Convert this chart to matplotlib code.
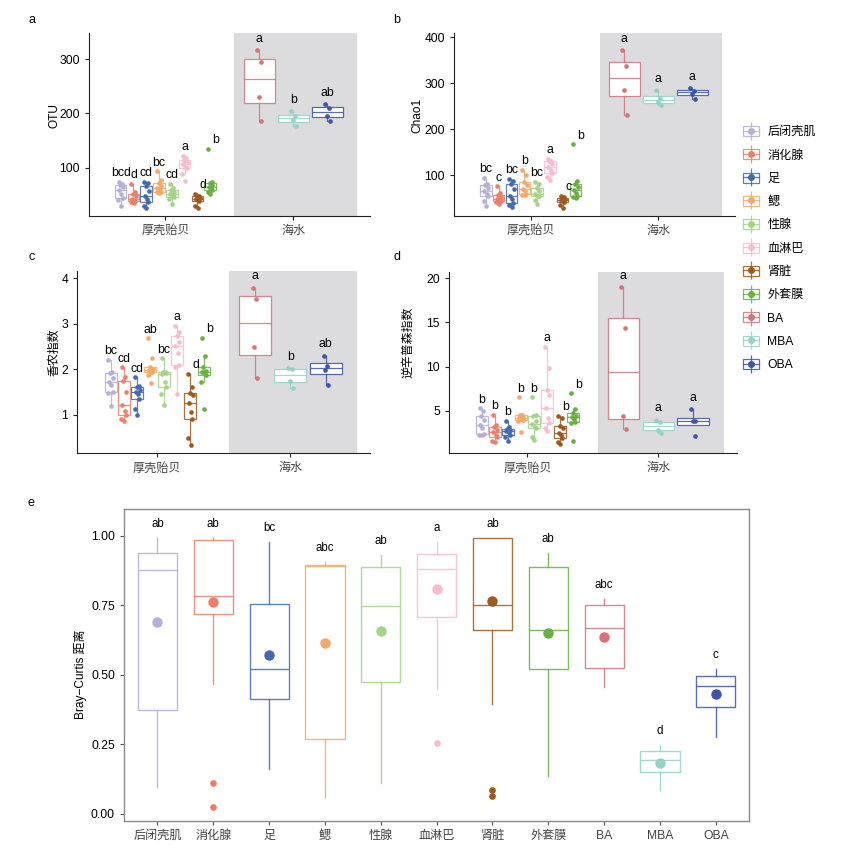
import numpy as np
import matplotlib
matplotlib.use("Agg")
import matplotlib.pyplot as plt
from matplotlib.patches import Patch
from matplotlib.lines import Line2D
from matplotlib.legend_handler import HandlerTuple
from matplotlib.colors import to_rgba

plt.rcParams['font.family'] = ['Liberation Sans', 'Noto Sans CJK SC', 'DejaVu Sans']
plt.rcParams['font.size'] = 8.5

groups = ['后闭壳肌', '消化腺', '足', '鳃', '性腺', '血淋巴', '肾脏', '外套膜', 'BA', 'MBA', 'OBA']
colors = ['#b4b0d9', '#e9806e', '#4569b0', '#f4a96a', '#a5d38a', '#f6bcd0',
          '#9c5a1f', '#6aae45', '#d37479', '#94d2c8', '#3e54a6']
sites = ['厚壳贻贝', '海水']

# panel a - OTU
otu = [
    [74, 70, 69, 64, 59, 52, 45, 40, 30],
    [70, 55, 51, 47, 42, 40, 38, 36, 35],
    [74, 71, 66, 57, 47, 42, 36, 30, 25],
    [93, 78, 72, 66, 62, 60, 56, 55, 53],
    [70, 62, 59, 55, 52, 50, 46, 42, 34],
    [122, 118, 114, 110, 106, 101, 99, 88, 76],
    [52, 48, 47, 45, 43, 40, 38, 30, 26],
    [134, 74, 72, 68, 64, 62, 58, 55, 52],
    [316, 295, 231, 186],
    [204, 195, 187, 177],
    [217, 210, 196, 186],
]
otu_letters = ['bcd', 'd', 'cd', 'bc', 'cd', 'a', 'd', 'b', 'a', 'b', 'ab']

# panel b - Chao1
chao1 = [
    [95, 82, 78, 72, 66, 60, 54, 45, 34],
    [76, 62, 57, 52, 48, 46, 43, 42, 38],
    [92, 88, 80, 70, 56, 48, 40, 35, 32],
    [112, 100, 85, 78, 70, 66, 60, 58, 57],
    [85, 80, 73, 66, 60, 56, 54, 46, 37],
    [135, 132, 130, 124, 118, 112, 104, 96, 89],
    [55, 53, 51, 49, 47, 44, 41, 35, 28],
    [167, 88, 80, 75, 68, 62, 55, 52, 50],
    [371, 338, 285, 231],
    [285, 267, 259, 252],
    [289, 284, 277, 265],
]
chao1_letters = ['bc', 'c', 'bc', 'b', 'bc', 'a', 'c', 'b', 'a', 'a', 'a']

# panel c - Shannon
shannon = [
    [2.2, 1.95, 1.91, 1.8, 1.73, 1.65, 1.51, 1.48, 1.2],
    [2.04, 1.84, 1.75, 1.5, 1.21, 1.09, 1.0, 0.9, 0.87],
    [1.82, 1.63, 1.6, 1.54, 1.5, 1.46, 1.35, 1.12, 1.0],
    [2.68, 2.24, 2.04, 2.0, 1.98, 1.95, 1.93, 1.87, 1.7],
    [2.24, 1.94, 1.93, 1.92, 1.9, 1.73, 1.6, 1.46, 1.21],
    [2.96, 2.83, 2.73, 2.6, 2.51, 2.36, 2.1, 2.05, 1.46],
    [1.9, 1.62, 1.48, 1.43, 1.25, 1.05, 0.9, 0.48, 0.33],
    [2.69, 2.3, 2.06, 1.97, 1.95, 1.93, 1.87, 1.73, 1.13],
    [3.8, 3.54, 2.5, 1.8],
    [2.02, 2.01, 1.75, 1.59],
    [2.3, 2.08, 1.98, 1.65],
]
shannon_letters = ['bc', 'cd', 'cd', 'ab', 'bc', 'a', 'd', 'b', 'a', 'b', 'ab']

# panel d - inverse Simpson
invsimpson = [
    [5.25, 5.0, 4.44, 4.0, 3.38, 3.0, 2.35, 2.3, 2.25],
    [4.5, 3.35, 3.2, 2.8, 2.62, 2.3, 2.05, 1.6, 1.45],
    [3.8, 3.2, 2.95, 2.8, 2.7, 2.55, 2.2, 2.0, 1.6],
    [6.5, 4.55, 4.5, 4.3, 4.2, 4.1, 3.9, 3.85, 2.6],
    [6.5, 4.5, 4.35, 3.8, 3.5, 3.2, 3.0, 2.0, 1.7],
    [12.2, 9.8, 7.4, 6.8, 5.3, 4.2, 3.64, 3.0, 2.7],
    [4.45, 4.2, 3.26, 3.0, 2.43, 2.3, 1.86, 1.5, 1.2],
    [6.95, 5.2, 4.7, 4.4, 4.3, 4.1, 3.75, 3.6, 1.6],
    [19.0, 14.4, 4.45, 2.9],
    [3.95, 3.7, 2.85, 2.5],
    [5.15, 3.85, 3.8, 2.15],
]
invsimpson_letters = ['b', 'b', 'b', 'b', 'b', 'a', 'b', 'b', 'a', 'a', 'a']

# panel e - Bray-Curtis distance
bc_whislo = [0.097, 0.466, 0.161, 0.059, 0.112, 0.448, 0.394, 0.137, 0.457, 0.085, 0.277]
bc_q1 = [0.375, 0.718, 0.414, 0.270, 0.476, 0.710, 0.662, 0.520, 0.526, 0.149, 0.383]
bc_med = [0.877, 0.785, 0.520, 0.891, 0.747, 0.880, 0.750, 0.663, 0.668, 0.193, 0.459]
bc_q3 = [0.939, 0.987, 0.756, 0.897, 0.890, 0.934, 0.991, 0.890, 0.753, 0.227, 0.497]
bc_whishi = [0.992, 0.994, 0.977, 0.908, 0.932, 0.980, 0.994, 0.938, 0.772, 0.247, 0.520]
bc_mean = [0.689, 0.764, 0.572, 0.614, 0.657, 0.808, 0.767, 0.652, 0.638, 0.183, 0.431]
bc_fliers = [[], [0.109, 0.026], [], [], [], [0.253], [0.084, 0.064], [], [], [], []]
bc_letters = ['ab', 'ab', 'bc', 'abc', 'ab', 'a', 'ab', 'ab', 'abc', 'd', 'c']

W, H = 857, 849
fig = plt.figure(figsize=(W / 100, H / 100), dpi=100)


def add_ax(left, top, right, bottom):
    return fig.add_axes([left / W, 1 - bottom / H, (right - left) / W, (bottom - top) / H])


jit = np.array([-0.016, 0.012, -0.004, 0.018, -0.012, 0.006, 0.015, -0.019, 0.002])
label_nudge = [0, 0, 0, 0, 0, 0, 4, 4, 0, 0, 0]
ink = '#222222'
tick_fs = 8.7


def draw_alpha(ax, values, letters, ylim, yticks, ylabel, ylab_pos):
    ax.axvspan(1.54, 2.5, color='#dcdbde', lw=0, zorder=0)
    for i, v in enumerate(values):
        if i < 8:
            slot = 0.8 / 8
            x = 0.6 + slot * (i + 0.5)
        else:
            slot = 0.8 / 3
            x = 1.6 + slot * (i - 8 + 0.5)
        c = colors[i]
        lc = to_rgba(c, 0.85)
        ax.boxplot(v, positions=[x], widths=slot * 0.9, showfliers=False, patch_artist=True,
                   manage_ticks=False, whis=1.5,
                   boxprops=dict(facecolor='white', edgecolor=lc, lw=0.9),
                   medianprops=dict(color=lc, lw=0.9),
                   whiskerprops=dict(color=lc, lw=0.9),
                   capprops=dict(visible=False))
        ax.scatter(x + jit[:len(v)], v, s=11, color=c, lw=0, zorder=3)
        pad = 2 if i < 8 else 4
        ax.annotate(letters[i], (x, max(v)), xytext=(label_nudge[i], pad),
                    textcoords='offset points', ha='center', va='bottom', fontsize=8.8)
    ax.set_xlim(0.4, 2.6)
    ax.set_ylim(*ylim)
    ax.set_yticks(yticks)
    ax.set_xticks([1, 2])
    ax.set_xticklabels(sites, color='#444444', fontsize=9)
    ax.set_ylabel(ylabel, fontsize=8.6, va='center')
    ax.yaxis.set_label_coords(*ylab_pos)
    for s in ['top', 'right']:
        ax.spines[s].set_visible(False)
    for s in ['left', 'bottom']:
        ax.spines[s].set_color(ink)
        ax.spines[s].set_linewidth(0.8)
    ax.tick_params(direction='out', length=3, width=0.8, color=ink, labelsize=tick_fs)


ax_a = add_ax(88.7, 33, 370, 216)
draw_alpha(ax_a, otu, otu_letters, (11, 348), [100, 200, 300], 'OTU', (-0.122, 0.55))
ax_b = add_ax(454, 33, 735, 216)
draw_alpha(ax_b, chao1, chao1_letters, (11.5, 409), [100, 200, 300, 400], 'Chao1', (-0.129, 0.55))
ax_c = add_ax(77.3, 270.7, 370, 453.3)
draw_alpha(ax_c, shannon, shannon_letters, (0.15, 4.17), [1, 2, 3, 4], '香农指数', (-0.079, 0.556))
ax_d = add_ax(449, 271.7, 736.7, 453.3)
draw_alpha(ax_d, invsimpson, invsimpson_letters, (0.17, 20.75), [5, 10, 15, 20], '逆辛普森指数', (-0.141, 0.61))

# panel e
ax_e = add_ax(124, 509, 749.3, 820.7)
stats = []
for i in range(len(groups)):
    stats.append(dict(whislo=bc_whislo[i], q1=bc_q1[i], med=bc_med[i], q3=bc_q3[i],
                      whishi=bc_whishi[i], mean=bc_mean[i], fliers=bc_fliers[i]))
pos = np.arange(1, len(groups) + 1)
bp = ax_e.bxp(stats, positions=pos, widths=0.7, showmeans=True, showcaps=False,
              patch_artist=True, manage_ticks=False)
for i, c in enumerate(colors):
    lc = to_rgba(c, 0.85)
    bp['boxes'][i].set(facecolor='white', edgecolor=lc, lw=1.0)
    bp['medians'][i].set(color=lc, lw=1.0)
    bp['whiskers'][2 * i].set(color=lc, lw=1.0)
    bp['whiskers'][2 * i + 1].set(color=lc, lw=1.0)
    bp['means'][i].set(marker='o', markerfacecolor=c, markeredgecolor=c, markersize=6.5)
    bp['fliers'][i].set(marker='o', markerfacecolor=c, markeredgecolor=c, markersize=3.8)
    ax_e.annotate(bc_letters[i], (pos[i], bc_whishi[i]), xytext=(0, 10),
                  textcoords='offset points', ha='center', va='center', fontsize=8.3)
ax_e.set_xlim(0.4, 11.6)
ax_e.set_ylim(-0.025, 1.097)
ax_e.set_xticks(pos)
ax_e.set_xticklabels(groups, color='#444444', fontsize=8.8)
ax_e.set_yticks([0, 0.25, 0.5, 0.75, 1.0])
ax_e.set_yticklabels(['0.00', '0.25', '0.50', '0.75', '1.00'])
ax_e.set_ylabel('Bray\u2212Curtis 距离', fontsize=8.6, va='center')
ax_e.yaxis.set_label_coords(-0.07, 0.47)
for s in ax_e.spines.values():
    s.set_color('#8a8a8a')
    s.set_linewidth(1.0)
ax_e.tick_params(direction='out', length=3, width=0.8, color='#555555', labelsize=tick_fs)

# panel letters
for lab, (px, py) in zip('abcde', [(31.7, 20), (396.7, 20), (31.7, 257.3), (396.7, 256.7), (31, 503.3)]):
    fig.text(px / W, 1 - py / H, lab, ha='center', va='center', fontsize=9)

# legend
handles = []
for c in colors:
    lc = to_rgba(c, 0.85)
    handles.append((Patch(facecolor='white', edgecolor=lc, lw=0.9),
                    Line2D([], [], color=lc, marker='|', markersize=13, lw=0, markeredgewidth=0.9),
                    Line2D([], [], color=lc, lw=0.9, marker='o', markersize=4,
                           markerfacecolor=c, markeredgecolor=c)))
fig.legend(handles, groups, loc='upper left', bbox_to_anchor=(743 / W, 1 - 126 / H),
           frameon=False, handler_map={tuple: HandlerTuple(ndivide=1, pad=0)},
           handlelength=1.3, handleheight=0.9, handletextpad=0.7, labelspacing=0.92,
           numpoints=1, fontsize=8.7, borderpad=0, borderaxespad=0)

fig.savefig('out.png', dpi=100)
